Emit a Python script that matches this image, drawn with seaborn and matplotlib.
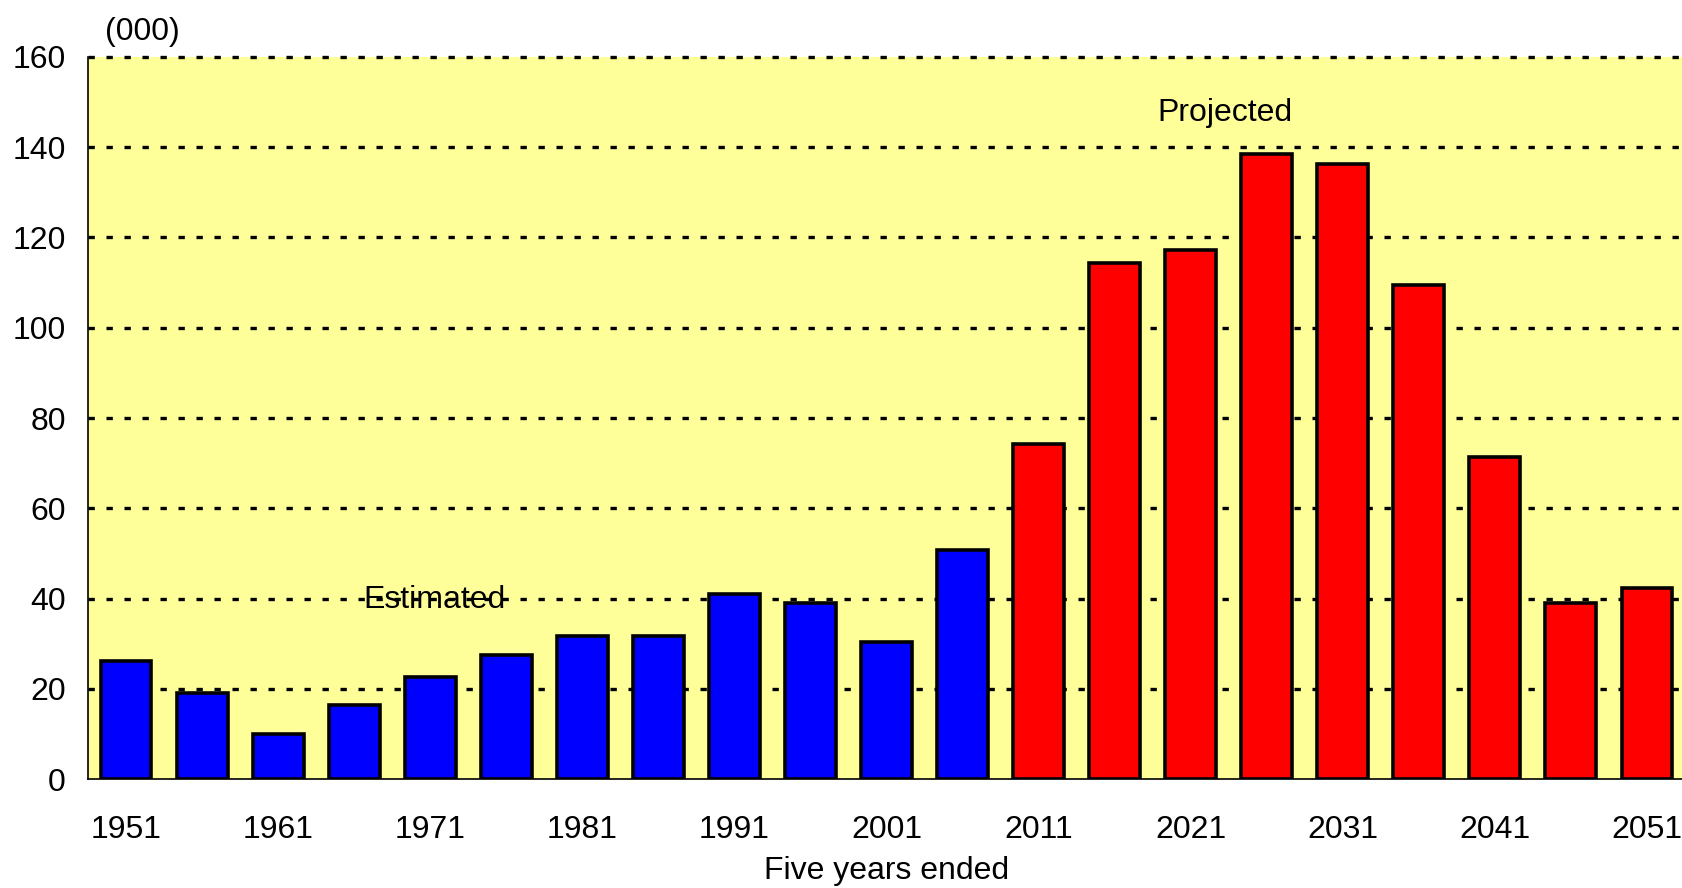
import matplotlib
matplotlib.use("Agg")
import matplotlib.pyplot as plt
import seaborn as sns
import pandas as pd

# Five-year periods (year ended) and net change, in thousands
years = [1951, 1956, 1961, 1966, 1971, 1976, 1981, 1986, 1991, 1996, 2001, 2006,
         2011, 2016, 2021, 2026, 2031, 2036, 2041, 2046, 2051]
estimated = [26.2, 19.1, 9.9, 16.3, 22.7, 27.5, 31.7, 31.7, 41.0, 38.9, 30.3, 50.8]
projected = [74.2, 114.4, 117.2, 138.4, 136.3, 109.5, 71.3, 38.9, 42.3]
period_names = ["Estimated", "Projected"]
tick_years = years[::2]
y_ticks = [0, 20, 40, 60, 80, 100, 120, 140, 160]

df = pd.DataFrame({
    "year": [str(y) for y in years],
    "value": estimated + projected,
    "period": [period_names[0]] * len(estimated) + [period_names[1]] * len(projected),
})

sns.set_style("white")
plt.rcParams["font.family"] = ["Liberation Sans", "DejaVu Sans"]
plt.rcParams.update({
    "text.color": "black",
    "axes.labelcolor": "black",
    "xtick.color": "black",
    "ytick.color": "black",
})

W, H = 1683, 888
fig = plt.figure(figsize=(W / 100, H / 100), dpi=100)
ax = fig.add_axes([88 / W, 1 - 779 / H, 1597 / W, 722 / H])
ax.set_facecolor("#FFFF99")

sns.barplot(
    data=df, x="year", y="value", hue="period",
    order=[str(y) for y in years], hue_order=period_names,
    palette={"Estimated": "#0000FF", "Projected": "#FF0000"},
    dodge=False, width=0.67, saturation=1,
    edgecolor="black", linewidth=2.6, legend=False, ax=ax, zorder=3,
)

ax.set_xlim(-0.5, len(years) - 0.5)
ax.set_ylim(0, 160)
ax.set_yticks(y_ticks)
ax.set_yticklabels([str(v) for v in y_ticks])
ax.set_xticks([years.index(y) for y in tick_years])
ax.set_xticklabels([str(y) for y in tick_years])
ax.tick_params(axis="both", length=0, labelsize=23)
ax.tick_params(axis="y", pad=16)
ax.tick_params(axis="x", pad=26)

ax.set_axisbelow(True)
ax.yaxis.grid(True, color="black", linestyle=(0, (1.9, 3.5)), linewidth=2.4)
ax.xaxis.grid(False)
for gl in ax.get_ygridlines():
    gl.set_clip_on(False)
# the zero line is the solid axis itself
ax.get_ygridlines()[0].set_visible(False)

for side in ["top", "right"]:
    ax.spines[side].set_visible(False)
for side in ["left", "bottom"]:
    ax.spines[side].set_color("black")
    ax.spines[side].set_linewidth(1.2)
    ax.spines[side].set_zorder(4)

ax.set_xlabel("Five years ended", fontsize=23, labelpad=8)
ax.set_ylabel("")

ax.text(0.0106, 1.0346, "(000)", transform=ax.transAxes, fontsize=23,
        ha="left", va="center")
ax.text(4.05, 37.9, "Estimated", fontsize=23, ha="center", va="baseline", zorder=5)
ax.text(14.45, 145.8, "Projected", fontsize=23, ha="center", va="baseline", zorder=5)

fig.savefig("out.png", dpi=100, facecolor="white")
